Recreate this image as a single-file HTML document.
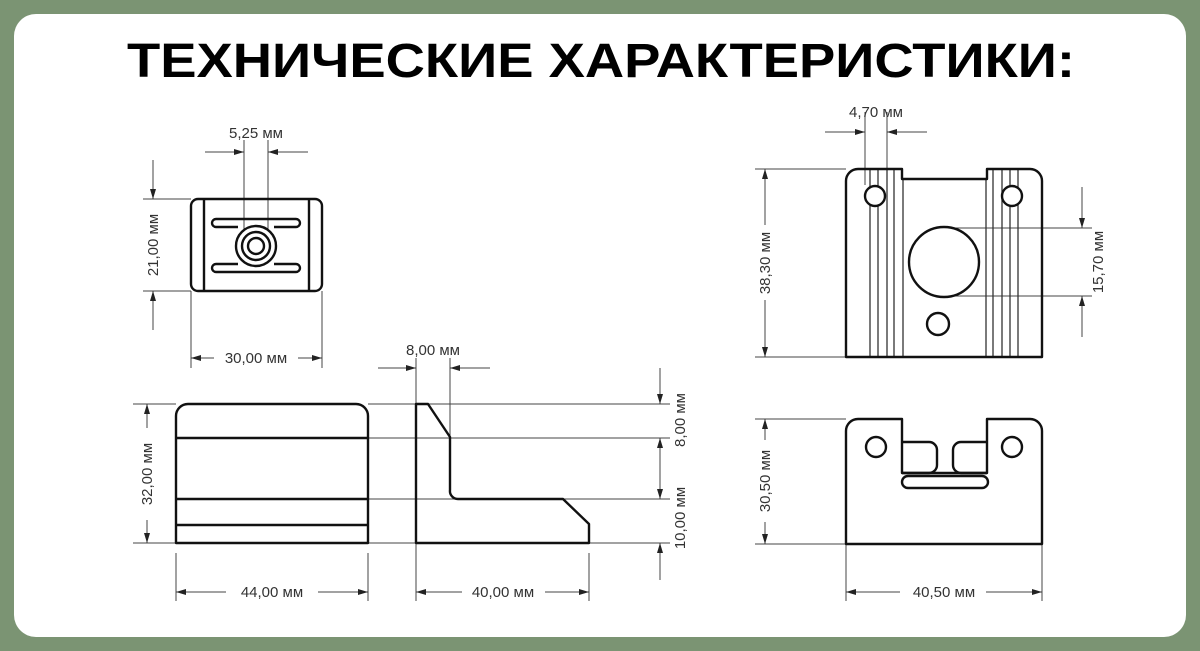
<!DOCTYPE html>
<html><head><meta charset="utf-8"><style>
html,body{margin:0;padding:0;background:#7b9473;}
svg{display:block}
</style></head><body>
<svg width="1200" height="651" viewBox="0 0 1200 651" xmlns="http://www.w3.org/2000/svg" font-family="Liberation Sans, sans-serif">
<defs>
<marker id="a" viewBox="0 0 10 6" refX="10" refY="3" markerWidth="10" markerHeight="6" markerUnits="userSpaceOnUse" orient="auto"><path d="M0,0 L10,3 L0,6 Z" fill="#222"/></marker>
</defs>
<rect x="0" y="0" width="1200" height="651" fill="#7b9473"/>
<rect x="14" y="14" width="1172" height="623" rx="22" fill="#fff"/>
<text x="601" y="77" text-anchor="middle" font-size="48" font-weight="bold" fill="#000" textLength="948" lengthAdjust="spacingAndGlyphs">ТЕХНИЧЕСКИЕ ХАРАКТЕРИСТИКИ:</text>

<g stroke="#444" stroke-width="1" fill="none">
<line x1="244" y1="140" x2="244" y2="232"/><line x1="268" y1="140" x2="268" y2="232"/>
<line x1="205" y1="152" x2="244" y2="152" marker-end="url(#a)"/><line x1="308" y1="152" x2="268" y2="152" marker-end="url(#a)"/>
<line x1="143" y1="199" x2="191" y2="199"/><line x1="143" y1="291" x2="191" y2="291"/>
<line x1="153" y1="160" x2="153" y2="199" marker-end="url(#a)"/><line x1="153" y1="330" x2="153" y2="291" marker-end="url(#a)"/>
<line x1="191" y1="291" x2="191" y2="368"/><line x1="322" y1="291" x2="322" y2="368"/>
<line x1="214" y1="358" x2="191" y2="358" marker-end="url(#a)"/><line x1="298" y1="358" x2="322" y2="358" marker-end="url(#a)"/>
<line x1="865" y1="112" x2="865" y2="185"/><line x1="887" y1="112" x2="887" y2="185"/>
<line x1="825" y1="132" x2="865" y2="132" marker-end="url(#a)"/><line x1="927" y1="132" x2="887" y2="132" marker-end="url(#a)"/>
<line x1="755" y1="169" x2="846" y2="169"/><line x1="755" y1="357" x2="846" y2="357"/>
<line x1="765" y1="225" x2="765" y2="169" marker-end="url(#a)"/><line x1="765" y1="300" x2="765" y2="357" marker-end="url(#a)"/>
<line x1="944" y1="228" x2="1092" y2="228"/><line x1="944" y1="296" x2="1092" y2="296"/>
<line x1="1082" y1="187" x2="1082" y2="228" marker-end="url(#a)"/><line x1="1082" y1="337" x2="1082" y2="296" marker-end="url(#a)"/>
<line x1="755" y1="419" x2="846" y2="419"/><line x1="755" y1="544" x2="846" y2="544"/>
<line x1="765" y1="440" x2="765" y2="419" marker-end="url(#a)"/><line x1="765" y1="522" x2="765" y2="544" marker-end="url(#a)"/>
<line x1="846" y1="544" x2="846" y2="601"/><line x1="1042" y1="544" x2="1042" y2="601"/>
<line x1="900" y1="592" x2="846" y2="592" marker-end="url(#a)"/><line x1="986" y1="592" x2="1042" y2="592" marker-end="url(#a)"/>
<line x1="133" y1="404" x2="176" y2="404"/><line x1="133" y1="543" x2="176" y2="543"/>
<line x1="147" y1="428" x2="147" y2="404" marker-end="url(#a)"/><line x1="147" y1="520" x2="147" y2="543" marker-end="url(#a)"/>
<line x1="176" y1="553" x2="176" y2="601"/><line x1="368" y1="553" x2="368" y2="601"/>
<line x1="226" y1="592" x2="176" y2="592" marker-end="url(#a)"/><line x1="318" y1="592" x2="368" y2="592" marker-end="url(#a)"/>
<line x1="368" y1="404" x2="670" y2="404"/><line x1="368" y1="438" x2="670" y2="438"/>
<line x1="368" y1="499" x2="670" y2="499"/><line x1="368" y1="543" x2="670" y2="543"/>
<line x1="416" y1="358" x2="416" y2="404"/><line x1="450" y1="358" x2="450" y2="438"/>
<line x1="378" y1="368" x2="416" y2="368" marker-end="url(#a)"/><line x1="490" y1="368" x2="450" y2="368" marker-end="url(#a)"/>
<line x1="660" y1="368" x2="660" y2="404" marker-end="url(#a)"/>
<line x1="660" y1="468" x2="660" y2="438" marker-end="url(#a)"/><line x1="660" y1="468" x2="660" y2="499" marker-end="url(#a)"/>
<line x1="660" y1="580" x2="660" y2="543" marker-end="url(#a)"/>
<line x1="416" y1="543" x2="416" y2="601"/><line x1="589" y1="553" x2="589" y2="601"/>
<line x1="462" y1="592" x2="416" y2="592" marker-end="url(#a)"/><line x1="545" y1="592" x2="589" y2="592" marker-end="url(#a)"/>
</g>

<!-- grooves on top-right part -->
<g stroke="#333" stroke-width="1.3">
<line x1="870" y1="169" x2="870" y2="357"/><line x1="878" y1="169" x2="878" y2="357"/>
<line x1="887" y1="169" x2="887" y2="357"/><line x1="894" y1="169" x2="894" y2="357"/>
<line x1="903" y1="179" x2="903" y2="357"/>
<line x1="986" y1="179" x2="986" y2="357"/><line x1="993" y1="169" x2="993" y2="357"/>
<line x1="1002" y1="169" x2="1002" y2="357"/><line x1="1010" y1="169" x2="1010" y2="357"/>
<line x1="1018" y1="169" x2="1018" y2="357"/>
</g>

<g fill="none" stroke="#111" stroke-width="2.4" stroke-linejoin="round">
<rect x="191" y="199" width="131" height="92" rx="7"/>
<line x1="204" y1="199" x2="204" y2="291"/><line x1="309" y1="199" x2="309" y2="291"/>
<path d="M238,227 H216 a4,4 0 0 1 0,-8 H296 a4,4 0 0 1 0,8 H274"/>
<path d="M238,264 H216 a4,4 0 0 0 0,8 H296 a4,4 0 0 0 0,-8 H274"/>
<circle cx="256" cy="246" r="20" fill="#fff"/><circle cx="256" cy="246" r="14"/><circle cx="256" cy="246" r="8"/>
<path d="M846,357 V181 a12,12 0 0 1 12,-12 H902 V179 H987 V169 H1030 a12,12 0 0 1 12,12 V357 Z"/>
<circle cx="875" cy="196" r="10" fill="#fff"/><circle cx="1012" cy="196" r="10" fill="#fff"/>
<circle cx="944" cy="262" r="35" fill="#fff"/><circle cx="938" cy="324" r="11" fill="#fff"/>
<path d="M846,544 V431 a12,12 0 0 1 12,-12 H902 V473 H987 V419 H1030 a12,12 0 0 1 12,12 V544 Z"/>
<path d="M902,442 H929 a8,8 0 0 1 8,8 V465 a8,8 0 0 1 -8,8 H902"/>
<path d="M987,442 H961 a8,8 0 0 0 -8,8 V465 a8,8 0 0 0 8,8 H987"/>
<path d="M908,476 H982 a6,6 0 0 1 0,12 H908 a6,6 0 0 1 0,-12 Z"/>
<circle cx="876" cy="447" r="10"/><circle cx="1012" cy="447" r="10"/>
<path d="M176,543 V416 a12,12 0 0 1 12,-12 H356 a12,12 0 0 1 12,12 V543 Z"/>
<line x1="176" y1="438" x2="368" y2="438"/><line x1="176" y1="499" x2="368" y2="499"/><line x1="176" y1="525" x2="368" y2="525"/>
<path d="M416,543 V404 H428 L450,437 V490 a8,8 0 0 0 8,9 H563 L589,524 V543 Z"/>
</g>

<g fill="#333" font-size="15">
<text x="256" y="138" text-anchor="middle">5,25 мм</text>
<text x="256" y="363" text-anchor="middle">30,00 мм</text>
<text transform="translate(158,245) rotate(-90)" text-anchor="middle">21,00 мм</text>
<text x="876" y="117" text-anchor="middle">4,70 мм</text>
<text transform="translate(770,263) rotate(-90)" text-anchor="middle">38,30 мм</text>
<text transform="translate(1103,262) rotate(-90)" text-anchor="middle">15,70 мм</text>
<text transform="translate(770,481) rotate(-90)" text-anchor="middle">30,50 мм</text>
<text x="944" y="597" text-anchor="middle">40,50 мм</text>
<text transform="translate(152,474) rotate(-90)" text-anchor="middle">32,00 мм</text>
<text x="272" y="597" text-anchor="middle">44,00 мм</text>
<text x="433" y="355" text-anchor="middle">8,00 мм</text>
<text x="503" y="597" text-anchor="middle">40,00 мм</text>
<text transform="translate(685,420) rotate(-90)" text-anchor="middle">8,00 мм</text>
<text transform="translate(685,518) rotate(-90)" text-anchor="middle">10,00 мм</text>
</g>
</svg>
</body></html>
